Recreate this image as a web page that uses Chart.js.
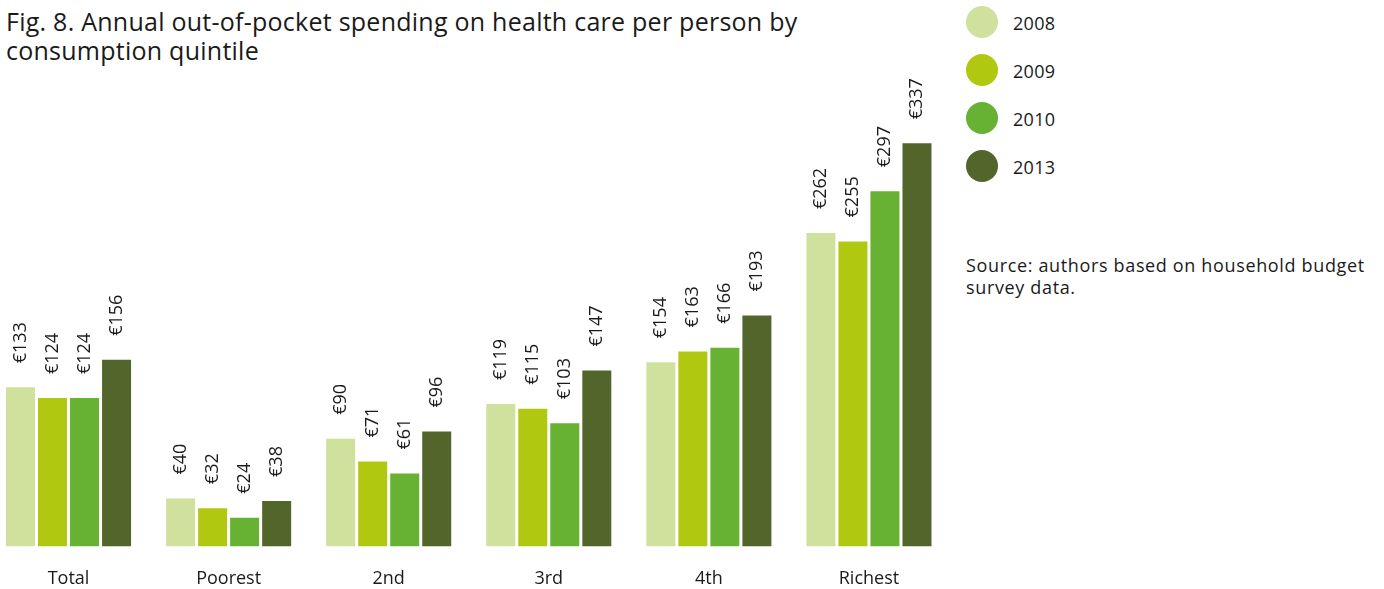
<!DOCTYPE html>
<html>
<head>
<meta charset="utf-8">
<script src="https://cdn.jsdelivr.net/npm/chart.js@4.4.1/dist/chart.umd.min.js"></script>
<style>
  html, body { margin: 0; padding: 0; background: #fff; width: 1384px; height: 589px; overflow: hidden; position: relative; font-family: "Open Sans", sans-serif; color: #1a1a1a; }
  #title { position: absolute; left: 6px; top: 7px; font-size: 25px; line-height: 29px; letter-spacing: 0.25px; }
  #chartBox { position: absolute; left: -12px; top: 0; width: 961px; height: 612px; }
  #legend { position: absolute; left: 966px; top: 6px; }
  .leg-row { position: relative; height: 48px; width: 200px; }
  .leg-dot { position: absolute; left: 0; top: 0; width: 32px; height: 32px; border-radius: 50%; }
  .leg-txt { position: absolute; left: 47px; top: 1px; font-size: 18px; line-height: 32px; letter-spacing: 0.3px; }
  #source { position: absolute; left: 966px; top: 254px; font-size: 18px; line-height: 22px; letter-spacing: 0.65px; }
</style>
</head>
<body>
<div id="title">Fig. 8. Annual out-of-pocket spending on health care per person by<br>consumption quintile</div>
<div id="chartBox"><canvas id="chart"></canvas></div>
<div id="legend"></div>
<div id="source">Source: authors based on household budget<br>survey data.</div>
<script>
// --- Data ---
const categories = ['Total', 'Poorest', '2nd', '3rd', '4th', 'Richest'];
const years = ['2008', '2009', '2010', '2013'];
const colors = ['#d0e09d', '#b0c910', '#67b232', '#52652b'];

const spend2008 = [133, 40, 90, 119, 154, 262];
const spend2009 = [124, 32, 71, 115, 163, 255];
const spend2010 = [124, 24, 61, 103, 166, 297];
const spend2013 = [156, 38, 96, 147, 193, 337];
const series = [spend2008, spend2009, spend2010, spend2013];

// --- Legend (html, right side) ---
const legend = document.getElementById('legend');
years.forEach((y, i) => {
    const row = document.createElement('div');
    row.className = 'leg-row';
    row.innerHTML = `<div class="leg-dot" style="background:${colors[i]}"></div><div class="leg-txt">${y}</div>`;
    legend.appendChild(row);
});

// --- Rotated € labels above each bar ---
const valueLabels = {
    id: 'valueLabels',
    afterDatasetsDraw(chart) {
        const ctx = chart.ctx;
        ctx.save();
        ctx.font = '18px "Open Sans"';
        ctx.fillStyle = '#1a1a1a';
        ctx.textAlign = 'left';
        ctx.textBaseline = 'middle';
        chart.data.datasets.forEach((ds, i) => {
            chart.getDatasetMeta(i).data.forEach((bar, j) => {
                ctx.save();
                ctx.translate(bar.x, bar.y - 24);
                ctx.rotate(-Math.PI / 2);
                ctx.fillText('€' + ds.data[j], 0, 0);
                ctx.restore();
            });
        });
        ctx.restore();
    }
};

new Chart(document.getElementById('chart').getContext('2d'), {
    type: 'bar',
    data: {
        labels: categories,
        datasets: years.map((y, i) => ({
            label: y,
            data: series[i],
            backgroundColor: colors[i],
            borderWidth: 0,
            categoryPercentage: 0.8,
            barPercentage: 0.906
        }))
    },
    options: {
        responsive: true,
        maintainAspectRatio: false,
        animation: false,
        layout: { padding: { top: 68, left: 0.5, right: 0, bottom: 0 } },
        plugins: { legend: { display: false }, tooltip: { enabled: false } },
        scales: {
            x: {
                grid: { display: false, drawTicks: false },
                border: { display: false },
                ticks: { color: '#1a1a1a', font: { family: '"Open Sans"', size: 18 }, padding: 22 }
            },
            y: { display: false, min: 0, max: 400 }
        }
    },
    plugins: [valueLabels]
});
</script>
</body>
</html>
